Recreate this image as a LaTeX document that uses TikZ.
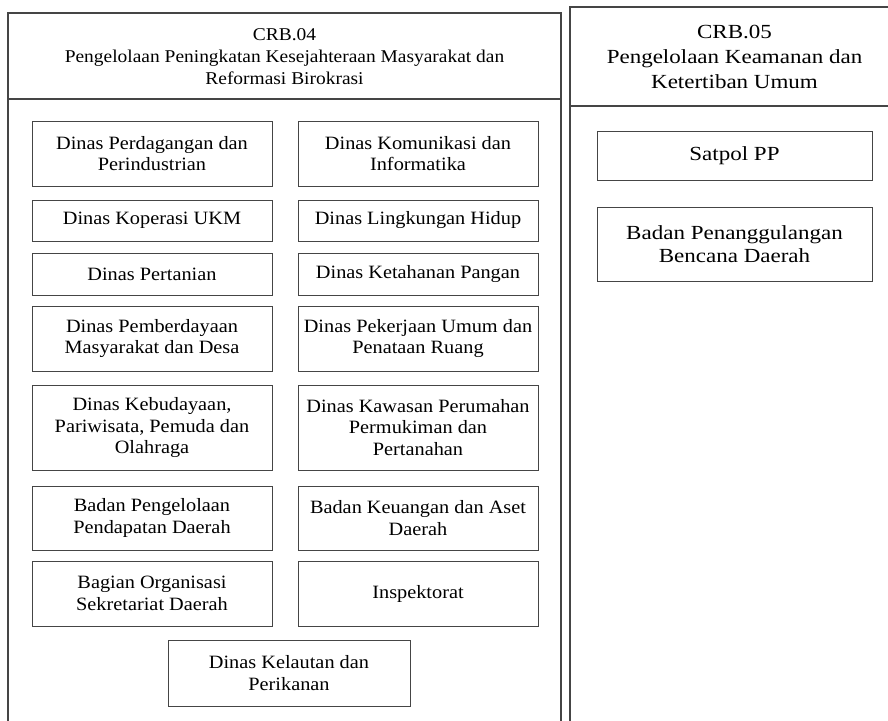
\documentclass[tikz,border=0pt]{standalone}
\usepackage{fontspec}
\setmainfont{Liberation Serif}[FakeStretch=1.08]
\newfontfamily\widefont{Liberation Serif}[FakeStretch=1.15]
\usepackage{tikz}
\usetikzlibrary{positioning}
\definecolor{crbline}{HTML}{454545}

\begin{document}
\begin{tikzpicture}[
  x=1pt, y=-1pt,
  frame/.style={draw=crbline, line width=1.1pt},
  box/.style={draw=crbline, line width=1pt, align=center, inner sep=0pt, minimum width=240pt, font=\fontsize{18.8}{21.5}\selectfont},
  sidebox/.style={box, minimum width=275pt, font=\widefont\fontsize{20}{23.5}\selectfont},
  head/.style={align=center, inner sep=0pt}
]
\clip (0,0) rectangle (888,720);
% panel kiri
\draw[frame] (8,730) -- (8,13) -- (561,13) -- (561,730);
\draw[frame] (8,99) -- (561,99);
\node[head, font=\fontsize{18}{22}\selectfont] (crb04) at (284.5,57)
  {CRB.04\\Pengelolaan Peningkatan Kesejahteraan Masyarakat dan\\Reformasi Birokrasi};
% panel kanan
\draw[frame] (570,730) -- (570,7) -- (895,7);
\draw[frame] (570,106) -- (895,106);
\node[head, font=\widefont\fontsize{20}{25}\selectfont] (crb05) at (734.5,56.5)
  {CRB.05\\Pengelolaan Keamanan dan\\Ketertiban Umum};

\node[box, minimum height=65pt] (dag) at (152,153.5) {Dinas Perdagangan dan\\Perindustrian};
\node[box, minimum height=41pt, below=13pt of dag] (kop) {Dinas Koperasi UKM};
\node[box, minimum height=42pt, below=11pt of kop] (tani) {Dinas Pertanian};
\node[box, minimum height=65pt, below=10pt of tani] (pmd) {Dinas Pemberdayaan\\Masyarakat dan Desa};
\node[box, minimum height=85pt, below=13pt of pmd] (bud) {Dinas Kebudayaan,\\Pariwisata, Pemuda dan\\Olahraga};
\node[box, minimum height=64pt, below=15pt of bud] (bpd) {Badan Pengelolaan\\Pendapatan Daerah};
\node[box, minimum height=65pt, below=10pt of bpd] (org) {Bagian Organisasi\\Sekretariat Daerah};

\node[box, minimum height=65pt, right=25pt of dag] (kom) {Dinas Komunikasi dan\\Informatika};
\node[box, minimum height=41pt, right=25pt of kop] (lh) {Dinas Lingkungan Hidup};
\node[box, minimum height=42pt, right=25pt of tani] (pangan) {Dinas Ketahanan Pangan};
\node[box, minimum height=65pt, right=25pt of pmd] (pupr) {Dinas Pekerjaan Umum dan\\Penataan Ruang};
\node[box, minimum height=85pt, right=25pt of bud] (perkim) {Dinas Kawasan Perumahan\\Permukiman dan\\Pertanahan};
\node[box, minimum height=64pt, right=25pt of bpd] (bkad) {Badan Keuangan dan Aset\\Daerah};
\node[box, minimum height=65pt, right=25pt of org] (insp) {Inspektorat};

\node[box, minimum width=242pt, minimum height=66pt] (kel) at (289,673) {Dinas Kelautan dan\\Perikanan};

\node[sidebox, minimum height=49pt] (satpol) at (734.5,155.5) {Satpol PP};
\node[sidebox, minimum height=74pt, below=26pt of satpol] (bpbd) {Badan Penanggulangan\\Bencana Daerah};
\end{tikzpicture}
\end{document}
